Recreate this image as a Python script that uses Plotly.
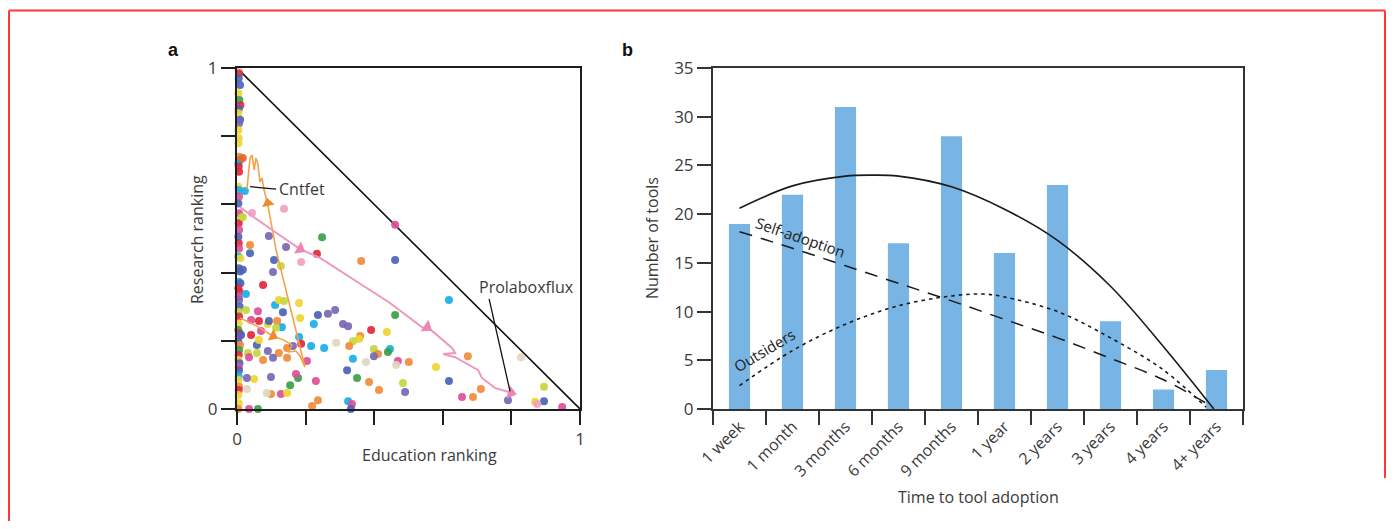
import plotly.graph_objects as go

# ---------------- Panel a data (education ranking, research ranking, colour group) -------------
dot_edu = [
    0.044, 0.137, 0.017, 0.093, 0.248, 0.143, 0.038, 0.038, 0.108, 0.187, 0.233, 0.362, 0.461, 0.461,
    0.105, 0.128, 0.023, 0.017, 0.076, 0.026, 0.618, 0.461, 0.026, 0.061, 0.134, 0.111, 0.122, 0.137,
    0.181, 0.236, 0.265, 0.286, 0.184, 0.224, 0.309, 0.324, 0.391, 0.437, 0.041, 0.064, 0.090, 0.093,
    0.117, 0.131, 0.114, 0.359, 0.356, 0.338, 0.327, 0.289, 0.216, 0.254, 0.181, 0.187, 0.399, 0.411,
    0.399, 0.446, 0.440, 0.469, 0.464, 0.501, 0.338, 0.376, 0.321, 0.580, 0.673, 0.828, 0.350, 0.385,
    0.484, 0.414, 0.490, 0.618, 0.711, 0.656, 0.688, 0.895, 0.895, 0.869, 0.875, 0.948, 0.790, 0.230,
    0.099, 0.050, 0.155, 0.178, 0.172, 0.099, 0.087, 0.128, 0.146, 0.029, 0.035, 0.061, 0.219, 0.236,
    0.324, 0.335, 0.332, 0.122, 0.146, 0.076, 0.105, 0.058, 0.032, 0.035, 0.058, 0.090, 0.146, 0.041,
    0.070, 0.163, 0.204, 0.012, 0.029, 0.017, 0.064,
]
dot_res = [
    0.575, 0.587, 0.563, 0.507, 0.504, 0.475, 0.481, 0.457, 0.437, 0.431, 0.455, 0.434, 0.437, 0.540,
    0.402, 0.419, 0.639, 0.736, 0.364, 0.337, 0.320, 0.276, 0.290, 0.287, 0.284, 0.305, 0.320, 0.317,
    0.311, 0.276, 0.279, 0.290, 0.267, 0.249, 0.249, 0.243, 0.232, 0.226, 0.261, 0.258, 0.249, 0.258,
    0.258, 0.240, 0.238, 0.214, 0.205, 0.199, 0.185, 0.194, 0.185, 0.179, 0.211, 0.191, 0.176, 0.161,
    0.155, 0.176, 0.167, 0.141, 0.129, 0.138, 0.147, 0.138, 0.114, 0.123, 0.155, 0.152, 0.091, 0.079,
    0.076, 0.056, 0.050, 0.082, 0.059, 0.035, 0.035, 0.065, 0.023, 0.021, 0.015, 0.006, 0.026, 0.082,
    0.094, 0.088, 0.070, 0.091, 0.103, 0.044, 0.047, 0.044, 0.047, 0.059, 0.000, 0.000, 0.009, 0.026,
    0.023, 0.015, 0.000, 0.164, 0.150, 0.144, 0.150, 0.164, 0.164, 0.152, 0.188, 0.170, 0.179, 0.217,
    0.229, 0.185, 0.141, 0.217, 0.091, 0.408, 0.202,
]
dot_col = [
    "lpink", "lpink", "ygreen", "purple", "green", "purple", "orange", "blue", "blue", "lpink", "red", "orange", "blue", "pink",
    "purple", "ygreen", "cyan", "ored", "red", "cyan", "cyan", "green", "ygreen", "pink", "blue", "cyan", "yellow", "ygreen",
    "yellow", "blue", "purple", "purple", "yellow", "cyan", "purple", "purple", "red", "yellow", "pink", "red", "yellow", "blue",
    "orange", "cyan", "ygreen", "orange", "yellow", "ygreen", "orange", "beige", "cyan", "cyan", "cyan", "red", "ygreen", "orange",
    "purple", "cyan", "green", "pink", "beige", "orange", "cyan", "beige", "blue", "yellow", "orange", "beige", "green", "orange",
    "ygreen", "orange", "purple", "blue", "orange", "pink", "orange", "ygreen", "blue", "yellow", "lpink", "pink", "purple", "pink",
    "purple", "yellow", "green", "green", "pink", "orange", "beige", "pink", "yellow", "beige", "pink", "green", "orange", "orange",
    "cyan", "pink", "blue", "orange", "orange", "orange", "purple", "ygreen", "ygreen", "pink", "blue", "purple", "orange", "red",
    "pink", "purple", "pink", "blue", "purple", "blue", "yellow",
]

# tools sitting on the research axis (education ranking ~ 0)
axis_res = [
    0.994, 0.984, 0.970, 0.950, 0.926, 0.906, 0.891, 0.880, 0.867, 0.848, 0.838, 0.818, 0.794, 0.779,
    0.740, 0.730, 0.720, 0.711, 0.696, 0.652, 0.642, 0.623, 0.603, 0.574, 0.560, 0.545, 0.525, 0.505,
    0.486, 0.471, 0.447, 0.442, 0.413, 0.403, 0.373, 0.369, 0.354, 0.344, 0.329, 0.320, 0.300, 0.285,
    0.271, 0.251, 0.232, 0.222, 0.212, 0.197, 0.188, 0.173, 0.158, 0.144, 0.134, 0.124, 0.114, 0.095,
    0.085, 0.065, 0.056, 0.041, 0.017, 0.000,
]
axis_edu = [
    0.004, 0.006, 0.005, 0.009, 0.004, 0.007, 0.010, 0.005, 0.004, 0.009, 0.006, 0.004, 0.005, 0.004,
    0.006, 0.009, 0.004, 0.005, 0.006, 0.004, 0.005, 0.006, 0.004, 0.006, 0.012, 0.005, 0.006, 0.004,
    0.005, 0.006, 0.004, 0.010, 0.006, 0.009, 0.005, 0.010, 0.004, 0.007, 0.005, 0.006, 0.008, 0.004,
    0.006, 0.005, 0.004, 0.007, 0.005, 0.004, 0.009, 0.006, 0.005, 0.004, 0.007, 0.005, 0.006, 0.005,
    0.004, 0.006, 0.005, 0.004, 0.005, 0.004,
]
axis_col = [
    "beige", "red", "blue", "blue", "yellow", "green", "red", "blue", "yellow", "blue", "purple", "yellow", "yellow", "yellow",
    "orange", "ored", "cyan", "red", "red", "yellow", "cyan", "pink", "blue", "pink", "ygreen", "red", "pink", "blue",
    "red", "pink", "cyan", "yellow", "blue", "blue", "cyan", "blue", "red", "red", "pink", "purple", "blue", "ygreen",
    "red", "yellow", "green", "red", "pink", "blue", "orange", "green", "red", "yellow", "blue", "pink", "blue", "cyan",
    "yellow", "orange", "red", "yellow", "yellow", "orange",
]

palette = {
    "blue": "#4a63b8", "red": "#e2283a", "orange": "#f08c3a", "yellow": "#f0d531",
    "ygreen": "#c3d73d", "green": "#3b9f4a", "purple": "#7867b5", "pink": "#de4f97",
    "lpink": "#f0a2c4", "cyan": "#17aee8", "beige": "#e0d6c1", "ored": "#e8652f",
}

# trajectories
cnt_edu = [0.009, 0.058, 0.105, 0.137, 0.160, 0.149, 0.172, 0.184, 0.198, 0.172, 0.143, 0.114, 0.090,
           0.079, 0.073, 0.067, 0.061, 0.055, 0.050, 0.044, 0.038, 0.032, 0.029]
cnt_res = [0.267, 0.243, 0.214, 0.202, 0.188, 0.167, 0.170, 0.155, 0.123, 0.232, 0.349, 0.466, 0.598,
           0.642, 0.677, 0.666, 0.718, 0.736, 0.701, 0.745, 0.736, 0.683, 0.645]
cnt_arrow_edu = [0.105, 0.090]
cnt_arrow_res = [0.214, 0.604]
cnt_arrow_ang = [117, -11]

pro_edu = [0.009, 0.044, 0.111, 0.184, 0.242, 0.344, 0.446, 0.539, 0.569, 0.627, 0.636, 0.601, 0.636,
           0.703, 0.714, 0.752, 0.802]
pro_res = [0.592, 0.566, 0.519, 0.469, 0.443, 0.378, 0.311, 0.240, 0.229, 0.179, 0.164, 0.161, 0.152,
           0.114, 0.091, 0.062, 0.047]
pro_arrow_edu = [0.184, 0.554, 0.799]
pro_arrow_res = [0.469, 0.240, 0.047]
pro_arrow_ang = [120, 124, 106]

# ---------------- Panel b data -------------
categories = ["1 week", "1 month", "3 months", "6 months", "9 months", "1 year", "2 years",
              "3 years", "4 years", "4+ years"]
n_tools = [19, 22, 31, 17, 28, 16, 23, 9, 2, 4]

total_x = [0, 1, 2, 2.5, 3, 4, 5, 6, 7, 8, 8.95]
total_y = [20.6, 22.9, 23.9, 24.0, 23.9, 22.8, 20.5, 17.3, 12.6, 6.4, 0.0]
self_x = [0, 1, 2, 3, 4, 5, 6, 7, 8, 8.9]
self_y = [18.2, 16.5, 14.7, 12.9, 11.1, 9.2, 7.3, 5.2, 3.0, 0.3]
out_x = [0, 1, 2, 3, 4, 4.6, 5, 6, 7, 8, 8.8]
out_y = [2.4, 6.0, 8.7, 10.6, 11.6, 11.8, 11.5, 10.0, 7.3, 4.0, 0.2]

# ---------------- Figure -------------
OFF = 8                      # the page body margin
W, H = 1394 - 2 * OFF, 529 - 2 * OFF
FONT = "Open Sans"
TXT = "#3a3a3a"
AX = "#1e1e1e"


def pfx(px):
    return (px - OFF) / W


def pfy(py):
    return 1 - (py - OFF) / H


fig = go.Figure()

fig.add_trace(go.Scatter(x=[0, 1], y=[1, 0], mode="lines", line=dict(color="#111", width=1.6),
                         xaxis="x", yaxis="y", hoverinfo="skip", showlegend=False))

fig.add_trace(go.Scatter(x=axis_edu, y=axis_res, mode="markers", cliponaxis=False,
                         marker=dict(size=8, color=[palette[c] for c in axis_col], opacity=0.9, line=dict(width=0)),
                         xaxis="x", yaxis="y", showlegend=False))
fig.add_trace(go.Scatter(x=dot_edu, y=dot_res, mode="markers", cliponaxis=False,
                         marker=dict(size=8, color=[palette[c] for c in dot_col], opacity=0.92, line=dict(width=0)),
                         xaxis="x", yaxis="y", showlegend=False))

fig.add_trace(go.Scatter(x=cnt_edu, y=cnt_res, mode="lines", line=dict(color="#f3a24c", width=1.6),
                         xaxis="x", yaxis="y", showlegend=False))
fig.add_trace(go.Scatter(x=cnt_arrow_edu, y=cnt_arrow_res, mode="markers",
                         marker=dict(symbol="triangle-up", size=11, color="#f08a2c", angle=cnt_arrow_ang),
                         xaxis="x", yaxis="y", showlegend=False))
fig.add_trace(go.Scatter(x=pro_edu, y=pro_res, mode="lines", line=dict(color="#ef98bf", width=2),
                         xaxis="x", yaxis="y", showlegend=False))
fig.add_trace(go.Scatter(x=pro_arrow_edu, y=pro_arrow_res, mode="markers",
                         marker=dict(symbol="triangle-up", size=12, color="#ec86b4", angle=pro_arrow_ang),
                         xaxis="x", yaxis="y", showlegend=False))

fig.add_trace(go.Bar(x=categories, y=n_tools, width=0.4, marker=dict(color="#78b4e4", line=dict(width=0)),
                     xaxis="x2", yaxis="y2", showlegend=False))
fig.add_trace(go.Scatter(x=total_x, y=total_y, mode="lines", line=dict(color="#1a1a1a", width=1.6, shape="spline"),
                         xaxis="x3", yaxis="y2", showlegend=False))
fig.add_trace(go.Scatter(x=self_x, y=self_y, mode="lines",
                         line=dict(color="#1a1a1a", width=1.5, shape="spline", dash="13px,9px"),
                         xaxis="x3", yaxis="y2", showlegend=False))
fig.add_trace(go.Scatter(x=out_x, y=out_y, mode="lines",
                         line=dict(color="#1a1a1a", width=1.6, shape="spline", dash="3.5px,4px"),
                         xaxis="x3", yaxis="y2", showlegend=False))

ydom = [pfy(409), pfy(68)]
axis_common = dict(showgrid=False, zeroline=False, showline=True, linecolor=AX, linewidth=2,
                   mirror=True, ticks="outside", ticklen=14, tickwidth=2, tickcolor=AX,
                   automargin=False, tickfont=dict(family=FONT, size=17, color=TXT))

fig.update_layout(
    width=W, height=H, autosize=False,
    margin=dict(l=0, r=0, t=0, b=0, pad=0, autoexpand=False),
    paper_bgcolor="white", plot_bgcolor="white",
    font=dict(family=FONT, color=TXT, size=15),
    xaxis=dict(domain=[pfx(237), pfx(580)], range=[0, 1], anchor="y",
               tickvals=[0, 0.2, 0.4, 0.6, 0.8, 1], ticktext=["0", "", "", "", "", "1"], **axis_common),
    yaxis=dict(domain=ydom, range=[0, 1], anchor="x",
               tickvals=[0, 0.2, 0.4, 0.6, 0.8, 1], ticktext=["0", "", "", "", "", "1"], **axis_common),
    xaxis2=dict(domain=[pfx(713), pfx(1243)], type="category", range=[-0.5, 9.5], anchor="y2",
                tickson="boundaries", tickangle=-45,
                **{**axis_common, "linecolor": "#333", "tickcolor": "#333",
                   "tickfont": dict(family=FONT, size=16, color=TXT)}),
    xaxis3=dict(domain=[pfx(713), pfx(1243)], range=[-0.5, 9.5], overlaying="x2", anchor="y2",
                visible=False),
    yaxis2=dict(domain=ydom, range=[0, 35], dtick=5, anchor="x2",
                **{**axis_common, "linecolor": "#333", "tickcolor": "#333"}),
    bargap=0.6,
)

C = dict(xanchor="center", yanchor="middle", showarrow=False)
ann = [
    dict(text="<b>a</b>", x=pfx(173), y=pfy(50), xref="paper", yref="paper",
         font=dict(family="Liberation Sans", size=18, color="#111"), **C),
    dict(text="<b>b</b>", x=pfx(627), y=pfy(50), xref="paper", yref="paper",
         font=dict(family="Liberation Sans", size=18, color="#111"), **C),
    dict(text="Research ranking", x=pfx(197), y=pfy(239), xref="paper", yref="paper",
         textangle=-90, font=dict(size=16), **C),
    dict(text="Education ranking", x=pfx(429), y=pfy(455), xref="paper", yref="paper",
         font=dict(size=16), **C),
    dict(text="Number of tools", x=pfx(652), y=pfy(238), xref="paper", yref="paper",
         textangle=-90, font=dict(size=16), **C),
    dict(text="Time to tool adoption", x=pfx(978), y=pfy(497), xref="paper", yref="paper",
         font=dict(size=16), **C),
    dict(text="Cntfet", x=0.117, y=0.645, xref="x", yref="y", xanchor="left", yanchor="middle",
         showarrow=False, font=dict(size=16)),
    dict(text="Prolaboxflux", x=0.845, y=0.358, xref="x", yref="y", font=dict(size=16), **C),
    dict(text="Self-adoption", x=1.15, y=17.7, xref="x3", yref="y2", textangle=19,
         font=dict(size=15, color="#222"), **C),
    dict(text="Outsiders", x=0.47, y=6.1, xref="x3", yref="y2", textangle=-31,
         font=dict(size=15, color="#222"), **C),
]

shapes = [
    dict(type="line", xref="x", yref="y", x0=0.038, y0=0.652, x1=0.114, y1=0.645,
         line=dict(color="#111", width=1.3)),
    dict(type="line", xref="x", yref="y", x0=0.735, y0=0.323, x1=0.796, y1=0.052,
         line=dict(color="#111", width=1.3)),
    dict(type="line", xref="paper", yref="paper", x0=pfx(9), y0=pfy(10.5), x1=pfx(9), y1=0,
         line=dict(color="#ff3838", width=2)),
    dict(type="line", xref="paper", yref="paper", x0=pfx(9), y0=pfy(10.5), x1=pfx(1385), y1=pfy(10.5),
         line=dict(color="#ff3838", width=2)),
    dict(type="line", xref="paper", yref="paper", x0=pfx(1385), y0=pfy(10.5), x1=pfx(1385), y1=pfy(478),
         line=dict(color="#ff3838", width=2)),
]

fig.update_layout(annotations=ann, shapes=shapes)
fig.write_html("out.html")
